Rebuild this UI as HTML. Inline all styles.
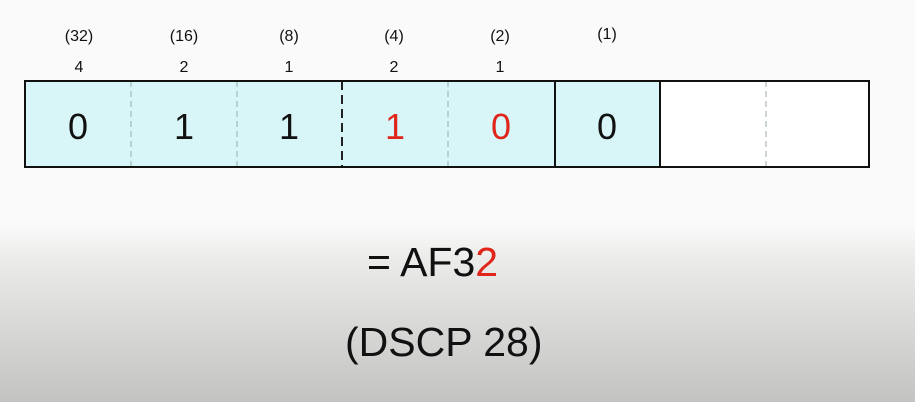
<!DOCTYPE html>
<html><head><style>
body{margin:0;width:915px;height:402px;overflow:hidden;background:linear-gradient(#fafafa 0px,#f9faf9 225px,#ebecea 260px,#c3c4c2 402px);font-family:"Liberation Sans",sans-serif;}
</style></head><body>
<svg width="915" height="402" xmlns="http://www.w3.org/2000/svg" style="position:absolute;left:0;top:0">
<rect x="24" y="80" width="636" height="88" fill="#d8f6f8"/>
<rect x="660" y="80" width="210" height="88" fill="#fff"/>
<g stroke="#9aa" stroke-width="1" stroke-dasharray="6,4">
<line x1="131" y1="81" x2="131" y2="167"/>
<line x1="237" y1="81" x2="237" y2="167"/>
<line x1="448" y1="81" x2="448" y2="167"/>
<line x1="766" y1="81" x2="766" y2="167"/>
</g>
<line x1="342" y1="81" x2="342" y2="167" stroke="#222" stroke-width="2" stroke-dasharray="9,5"/>
<line x1="555" y1="80" x2="555" y2="168" stroke="#111" stroke-width="2"/>
<line x1="660" y1="80" x2="660" y2="168" stroke="#111" stroke-width="2"/>
<rect x="25" y="81" width="844" height="86" fill="none" stroke="#111" stroke-width="2"/>
<g font-size="16" text-anchor="middle" fill="#111">
<text x="79" y="41">(32)</text><text x="184" y="41">(16)</text><text x="289" y="41">(8)</text>
<text x="394" y="41">(4)</text><text x="500" y="41">(2)</text><text x="607" y="39">(1)</text>
<text x="79" y="72">4</text><text x="184" y="72">2</text><text x="289" y="72">1</text>
<text x="394" y="72">2</text><text x="500" y="72">1</text>
</g>
<g font-size="36" text-anchor="middle" fill="#111">
<text x="78" y="139">0</text><text x="184" y="139">1</text><text x="289" y="139">1</text>
<text x="395" y="139" fill="#e0261b">1</text><text x="501" y="139" fill="#e0261b">0</text>
<text x="607" y="139">0</text>
</g>
<text x="367" y="276" font-size="41" fill="#111">= AF3<tspan fill="#e0261b">2</tspan></text>
<text x="345" y="356" font-size="41" fill="#111">(DSCP 28)</text>
</svg>
</body></html>
